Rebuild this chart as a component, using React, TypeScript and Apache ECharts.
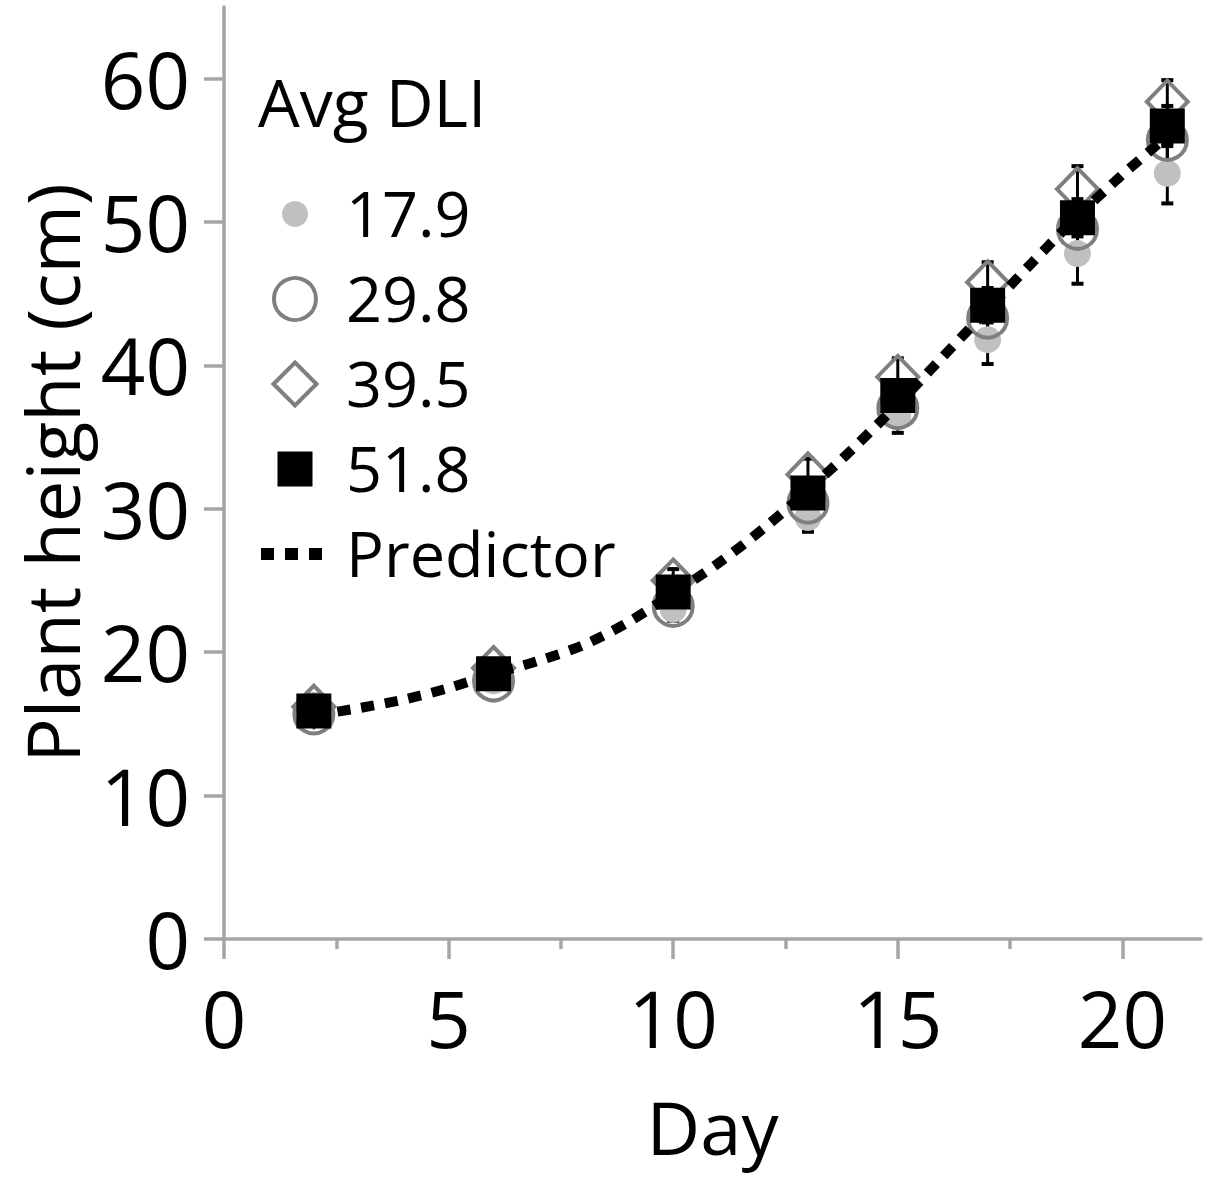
import React, { useEffect, useRef } from "react";
import * as echarts from "echarts";

// ---- data ----
const days = [2, 6, 10, 13, 15, 17, 19, 21];
const dli179Values = [16.0, 18.0, 23.0, 29.4, 36.4, 41.8, 47.8, 53.4];
const dli179Errors = [0.5, 0.5, 0.8, 1.0, 1.1, 1.7, 2.1, 2.1];
const dli298Values = [15.7, 18.0, 23.2, 30.4, 37.0, 43.3, 49.5, 55.7];
const dli298Errors = [0.5, 0.6, 0.8, 1.0, 1.2, 1.4, 1.5, 1.7];
const dli395Values = [16.2, 18.9, 25.0, 32.4, 39.2, 45.8, 52.3, 58.4];
const dli395Errors = [0.4, 0.5, 0.8, 1.1, 1.3, 1.4, 1.6, 1.5];
const dli518Values = [15.9, 18.5, 24.2, 31.1, 37.9, 44.2, 50.3, 56.7];
const dli518Errors = [0.4, 0.5, 0.7, 0.9, 1.0, 1.2, 1.3, 1.4];

const predictorDays = [2, 3, 4, 5, 6, 7, 8, 9, 10, 11, 12, 13, 14, 15, 16, 17, 18, 19, 20, 21];
const predictorValues = [15.6, 16.1, 16.7, 17.5, 18.5, 19.4, 20.5, 22.1, 24.1, 26.2, 28.6, 31.3, 34.2, 37.3, 40.6, 43.9, 47.2, 50.4, 53.3, 56.0];

const xTickValues = [0, 5, 10, 15, 20];
const xMinorTickValues = [2.5, 7.5, 12.5, 17.5];
const yTickValues = [0, 10, 20, 30, 40, 50, 60];

const legendTitle = "Avg DLI";
const legendLabels = ["17.9", "29.8", "39.5", "51.8", "Predictor"];
const xAxisName = "Day";
const yAxisName = "Plant height (cm)";

const FONT = '"Open Sans", "Noto Sans", sans-serif';
const AXIS_GRAY = "#a6a6a6";
const LIGHT_GRAY = "#c0c0c0";
const MID_GRAY = "#7f7f7f";

function pairs(xs: number[], ys: number[]) {
  return xs.map((x, i) => [x, ys[i]]);
}

function errorData(xs: number[], ys: number[], es: number[]) {
  return xs.map((x, i) => [x, ys[i] - es[i], ys[i] + es[i]]);
}

export default function App() {
  const ref = useRef<HTMLDivElement>(null);

  useEffect(() => {
    if (!ref.current) return;
    const chart = echarts.init(ref.current, undefined, { renderer: "svg" });

    const allErrors = [
      ...errorData(days, dli179Values, dli179Errors),
      ...errorData(days, dli298Values, dli298Errors),
      ...errorData(days, dli395Values, dli395Errors),
      ...errorData(days, dli518Values, dli518Errors),
    ];

    const legendX = 295;
    const textX = 346;
    const rowY = [214, 299, 384, 469, 554];

    const option: any = {
      animation: false,
      backgroundColor: "#ffffff",
      textStyle: { fontFamily: FONT },
      grid: { left: 224, right: 10, top: 7, bottom: 248, containLabel: false, outerBoundsMode: "none" },
      xAxis: [
        {
          type: "value",
          position: "bottom",
          min: 0,
          max: 21.75,
          name: xAxisName,
          nameLocation: "middle",
          nameGap: 150,
          nameTextStyle: { fontSize: 74, color: "#000", fontFamily: FONT },
          axisLine: { show: true, lineStyle: { color: AXIS_GRAY, width: 3.5 } },
          axisTick: {
            show: true,
            inside: false,
            length: 20,
            customValues: xTickValues,
            lineStyle: { color: AXIS_GRAY, width: 3.5 },
          },
          axisLabel: {
            show: true,
            customValues: xTickValues,
            fontSize: 78,
            color: "#000",
            fontFamily: FONT,
            margin: 40,
          },
          splitLine: { show: false },
        },
        {
          type: "value",
          position: "bottom",
          min: 0,
          max: 21.75,
          axisLine: { show: false },
          axisTick: {
            show: true,
            inside: false,
            length: 10,
            customValues: xMinorTickValues,
            lineStyle: { color: AXIS_GRAY, width: 3.5 },
          },
          axisLabel: { show: false },
          splitLine: { show: false },
        },
      ],
      yAxis: {
        type: "value",
        min: 0,
        max: 65,
        name: yAxisName,
        nameLocation: "middle",
        nameGap: 136,
        nameTextStyle: { fontSize: 74, lineHeight: 74, color: "#000", fontFamily: FONT },
        axisLine: { show: true, lineStyle: { color: AXIS_GRAY, width: 3.5 } },
        axisTick: {
          show: true,
          inside: false,
          length: 20,
          customValues: yTickValues,
          lineStyle: { color: AXIS_GRAY, width: 3.5 },
        },
        axisLabel: {
          show: true,
          customValues: yTickValues,
          fontSize: 78,
          color: "#000",
          fontFamily: FONT,
          margin: 34,
        },
        splitLine: { show: false },
      },
      series: [
        {
          type: "custom",
          name: "errors",
          xAxisIndex: 0,
          data: allErrors,
          encode: { x: 0, y: [1, 2] },
          renderItem: (params: any, api: any) => {
            const x = api.value(0);
            const lo = api.value(1);
            const hi = api.value(2);
            const top = api.coord([x, hi]);
            const bot = api.coord([x, lo]);
            const cap = 6;
            return {
              type: "group",
              children: [
                {
                  type: "line",
                  shape: { x1: top[0], y1: top[1], x2: bot[0], y2: bot[1] },
                  style: { stroke: "#000", lineWidth: 3 },
                },
                {
                  type: "line",
                  shape: { x1: top[0] - cap, y1: top[1], x2: top[0] + cap, y2: top[1] },
                  style: { stroke: "#000", lineWidth: 4 },
                },
                {
                  type: "line",
                  shape: { x1: bot[0] - cap, y1: bot[1], x2: bot[0] + cap, y2: bot[1] },
                  style: { stroke: "#000", lineWidth: 4 },
                },
              ],
            };
          },
        },
        {
          type: "scatter",
          name: legendLabels[0],
          xAxisIndex: 0,
          data: pairs(days, dli179Values),
          symbol: "circle",
          symbolSize: 27,
          itemStyle: { color: LIGHT_GRAY, opacity: 1 },
        },
        {
          type: "scatter",
          name: legendLabels[1],
          xAxisIndex: 0,
          data: pairs(days, dli298Values),
          symbol: "circle",
          symbolSize: 39,
          itemStyle: { color: "rgba(0,0,0,0)", borderColor: MID_GRAY, borderWidth: 4, opacity: 1 },
        },
        {
          type: "scatter",
          name: legendLabels[2],
          xAxisIndex: 0,
          data: pairs(days, dli395Values),
          symbol: "diamond",
          symbolSize: [41, 42],
          itemStyle: { color: "rgba(0,0,0,0)", borderColor: MID_GRAY, borderWidth: 4, opacity: 1 },
        },
        {
          type: "line",
          name: legendLabels[4],
          xAxisIndex: 0,
          data: pairs(predictorDays, predictorValues),
          showSymbol: false,
          symbol: "none",
          smooth: 0.3,
          lineStyle: { color: "#000", width: 10, type: [13, 11], cap: "butt" },
        },
        {
          type: "scatter",
          name: legendLabels[3],
          xAxisIndex: 0,
          data: pairs(days, dli518Values),
          symbol: "rect",
          symbolSize: 35,
          itemStyle: { color: "#000", opacity: 1 },
        },
      ],
      graphic: [
        {
          type: "text",
          x: 258,
          y: 101,
          style: { text: legendTitle, fontSize: 66, fontFamily: FONT, fill: "#000", verticalAlign: "middle", align: "left" },
        },
        {
          type: "circle",
          shape: { cx: legendX, cy: rowY[0], r: 13 },
          style: { fill: LIGHT_GRAY },
        },
        {
          type: "circle",
          shape: { cx: legendX, cy: rowY[1], r: 21 },
          style: { fill: "none", stroke: MID_GRAY, lineWidth: 4 },
        },
        {
          type: "polygon",
          shape: {
            points: [
              [legendX, rowY[2] - 21.5],
              [legendX + 21.5, rowY[2]],
              [legendX, rowY[2] + 21.5],
              [legendX - 21.5, rowY[2]],
            ],
          },
          style: { fill: "none", stroke: MID_GRAY, lineWidth: 4 },
        },
        {
          type: "rect",
          shape: { x: legendX - 17.5, y: rowY[3] - 17.5, width: 35, height: 35 },
          style: { fill: "#000" },
        },
        {
          type: "line",
          shape: { x1: 261, y1: rowY[4], x2: 324, y2: rowY[4] },
          style: { stroke: "#000", lineWidth: 12, lineDash: [13, 11], lineCap: "butt" },
        },
        ...legendLabels.map((label, i) => ({
          type: "text",
          x: textX,
          y: rowY[i] - 2,
          style: { text: label, fontSize: 63, fontFamily: FONT, fill: "#000", verticalAlign: "middle", align: "left" },
        })),
      ],
    };

    chart.setOption(option);
    return () => chart.dispose();
  }, []);

  return (
    <div
      ref={ref}
      style={{ position: "fixed", left: 0, top: 0, width: 1211, height: 1187, background: "#fff" }}
    />
  );
}
